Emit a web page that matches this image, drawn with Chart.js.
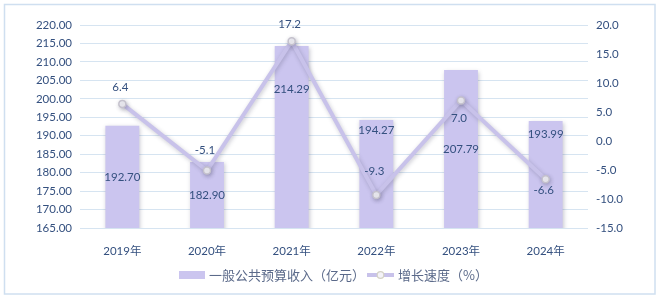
<!DOCTYPE html>
<html>
<head>
<meta charset="utf-8">
<script src="https://cdn.jsdelivr.net/npm/chart.js@4.4.1/dist/chart.umd.min.js"></script>
<style>
  html, body { margin: 0; padding: 0; background: #ffffff; }
  #wrap { position: relative; width: 660px; height: 299px; }
</style>
</head>
<body>
<div id="wrap"><canvas id="c" width="660" height="299"></canvas></div>
<script>
// Yearly general public budget revenue and its growth rate
const years = ['2019年', '2020年', '2021年', '2022年', '2023年', '2024年'];
const revenue = [192.70, 182.90, 214.29, 194.27, 207.79, 193.99];
const growth = [6.4, -5.1, 17.2, -9.3, 7.0, -6.6];
const revenueTicks = [165, 170, 175, 180, 185, 190, 195, 200, 205, 210, 215, 220];
const growthTicks = [-15, -10, -5, 0, 5, 10, 15, 20];
const revenueName = '一般公共预算收入（亿元）';
const growthName = '增长速度（%）';

const TEXT = '#34507f';
const BAR = '#cbc5ef';
const LINE = '#c8c2ea';
const NUM_FONT = '11.5px Lato, "Liberation Sans", sans-serif';
const CJK_FONT = '13px "Noto Sans CJK SC", sans-serif';

// Outer frame around the whole figure
const framePlugin = {
  id: 'frame',
  beforeDraw(chart) {
    const ctx = chart.ctx;
    ctx.save();
    ctx.fillStyle = '#ffffff';
    ctx.fillRect(0, 0, chart.width, chart.height);
    ctx.strokeStyle = '#cfdff0';
    ctx.lineWidth = 1.5;
    ctx.strokeRect(4.5, 4.5, 650.5, 289.5);
    ctx.restore();
  }
};

// Soft drop shadow under bars and the line
const shadowPlugin = {
  id: 'softShadow',
  beforeDatasetDraw(chart) {
    const ctx = chart.ctx;
    ctx.save();
    ctx.shadowColor = 'rgba(60,60,90,0.28)';
    ctx.shadowBlur = 4;
    ctx.shadowOffsetX = 1;
    ctx.shadowOffsetY = 1.5;
  },
  afterDatasetDraw(chart) {
    chart.ctx.restore();
  }
};

// Value labels for bars and line points
const labelPlugin = {
  id: 'valueLabels',
  afterDatasetsDraw(chart, args, opts) {
    const ctx = chart.ctx;
    ctx.save();
    ctx.font = NUM_FONT;
    ctx.fillStyle = TEXT;
    ctx.textAlign = 'center';
    ctx.textBaseline = 'middle';
    const yScale = chart.scales.y;
    const baseY = yScale.getPixelForValue(yScale.min);
    const barMeta = chart.getDatasetMeta(0);
    barMeta.data.forEach((el, i) => {
      const topY = yScale.getPixelForValue(revenue[i]);
      const p = opts.barPos[i];
      const y = p === 'mid' ? (topY + baseY) / 2 : topY + p;
      ctx.fillText(revenue[i].toFixed(2), el.x, y);
    });
    const lineMeta = chart.getDatasetMeta(1);
    lineMeta.data.forEach((el, i) => {
      ctx.fillText(growth[i].toFixed(1), el.x - 2, el.y + opts.lineOffset[i]);
    });
    ctx.restore();
  }
};

// Legend drawn below the axis labels
const legendPlugin = {
  id: 'customLegend',
  afterDraw(chart) {
    const ctx = chart.ctx;
    ctx.save();
    const y = 275;
    ctx.fillStyle = BAR;
    ctx.fillRect(179, y - 4, 26, 8);
    ctx.font = CJK_FONT;
    ctx.fillStyle = '#5b6a8a';
    ctx.textBaseline = 'middle';
    ctx.textAlign = 'left';
    ctx.fillText(revenueName, 209, y);
    ctx.strokeStyle = LINE;
    ctx.lineWidth = 4;
    ctx.beginPath();
    ctx.moveTo(367, y);
    ctx.lineTo(394, y);
    ctx.stroke();
    ctx.beginPath();
    ctx.arc(380.5, y, 3.3, 0, Math.PI * 2);
    ctx.fillStyle = '#f4f3f8';
    ctx.fill();
    ctx.lineWidth = 1.2;
    ctx.strokeStyle = '#d4d2c6';
    ctx.stroke();
    ctx.fillStyle = '#5b6a8a';
    ctx.fillText(growthName, 398, y);
    ctx.restore();
  }
};

new Chart(document.getElementById('c'), {
  data: {
    labels: years,
    datasets: [
      {
        type: 'bar',
        label: revenueName,
        data: revenue,
        backgroundColor: BAR,
        borderWidth: 0,
        categoryPercentage: 1,
        barPercentage: 0.4,
        yAxisID: 'y',
        order: 2
      },
      {
        type: 'line',
        label: growthName,
        data: growth,
        borderColor: LINE,
        borderWidth: 4,
        tension: 0,
        pointRadius: 3.5,
        pointBackgroundColor: '#f4f3f8',
        pointBorderColor: '#c4c1cc',
        pointBorderWidth: 1.5,
        yAxisID: 'y1',
        order: 1
      }
    ]
  },
  options: {
    responsive: false,
    animation: false,
    layout: { padding: { top: 25, left: 0, right: 0, bottom: 0 } },
    plugins: {
      legend: { display: false },
      tooltip: { enabled: false },
      valueLabels: {
        barPos: ['mid', 'mid', 43, 10, 'mid', 13],
        lineOffset: [-17, -20, -17, -24, 18, 11]
      }
    },
    scales: {
      x: {
        grid: { display: false },
        border: { display: false },
        ticks: { color: TEXT, font: { family: 'Lato, "Noto Sans CJK SC", sans-serif', size: 11.5 }, padding: 8 },
        afterFit(s) { s.height = 71; }
      },
      y: {
        position: 'left',
        min: revenueTicks[0],
        max: revenueTicks[revenueTicks.length - 1],
        afterBuildTicks(s) { s.ticks = revenueTicks.map(v => ({ value: v })); },
        grid: { color: '#d6e4f1', lineWidth: 1, drawTicks: false },
        border: { display: false },
        ticks: {
          color: TEXT,
          font: { family: 'Lato, "Liberation Sans", sans-serif', size: 11.5 },
          padding: 8,
          callback: v => Number(v).toFixed(2)
        },
        afterFit(s) { s.width = 80; }
      },
      y1: {
        position: 'right',
        min: growthTicks[0],
        max: growthTicks[growthTicks.length - 1],
        afterBuildTicks(s) { s.ticks = growthTicks.map(v => ({ value: v })); },
        grid: { display: false, drawTicks: false },
        border: { display: false },
        ticks: {
          color: TEXT,
          font: { family: 'Lato, "Liberation Sans", sans-serif', size: 11.5 },
          padding: 8,
          callback: v => Number(v).toFixed(1)
        },
        afterFit(s) { s.width = 72; }
      }
    }
  },
  plugins: [framePlugin, shadowPlugin, labelPlugin, legendPlugin]
});
</script>
</body>
</html>
